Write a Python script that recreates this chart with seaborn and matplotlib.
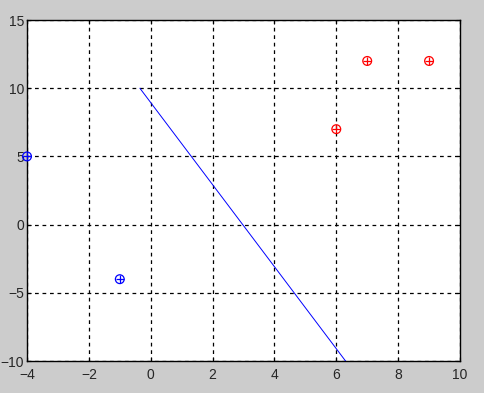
import matplotlib
matplotlib.use("Agg")
import matplotlib.pyplot as plt
import seaborn as sns
import pandas as pd

blue_x = [-4, -1]
blue_y = [5, -4]
red_x = [6, 7, 9]
red_y = [7, 12, 12]
line_x = [-0.35, 6.3]
line_y = [10, -10]
xticks = [-4, -2, 0, 2, 4, 6, 8, 10]
yticks = [-10, -5, 0, 5, 10, 15]

sns.set_style("white")
plt.rcParams['font.family'] = ['Liberation Sans', 'DejaVu Sans']

fig = plt.figure(figsize=(4.84, 3.93), dpi=100, facecolor="#cccccc")
ax = fig.add_axes([0.0558, 0.0814, 0.8946, 0.8676])
ax.set_facecolor("white")

ln = pd.DataFrame({"x": line_x, "y": line_y})
sns.lineplot(data=ln, x="x", y="y", ax=ax, color="blue", linewidth=0.7, sort=False, zorder=3)

for xs, ys, c in [(blue_x, blue_y, "blue"), (red_x, red_y, "red")]:
    d = pd.DataFrame({"x": xs, "y": ys})
    sns.scatterplot(data=d, x="x", y="y", ax=ax, marker="o", s=40, facecolor="none",
                    edgecolor=c, linewidth=0.9, zorder=4, clip_on=False)
    sns.scatterplot(data=d, x="x", y="y", ax=ax, marker="+", s=40, color=c,
                    linewidth=0.9, zorder=4, clip_on=False)

ax.set_xlim(-4, 10)
ax.set_ylim(-10, 15)
ax.set_xticks(xticks)
ax.set_yticks(yticks)
ax.set_xlabel("")
ax.set_ylabel("")
ax.grid(True, color="black", linestyle=(0, (3, 3)), linewidth=0.9)
ax.set_axisbelow(True)
for s in ax.spines.values():
    s.set_color("black")
    s.set_linewidth(1.0)
ax.tick_params(direction="in", length=3, color="black", labelsize=10,
               left=True, bottom=True, right=True, top=True)
ax.tick_params(axis="x", pad=5)
ax.tick_params(axis="y", pad=2)

fig.savefig("out.png", dpi=100, facecolor=fig.get_facecolor())
